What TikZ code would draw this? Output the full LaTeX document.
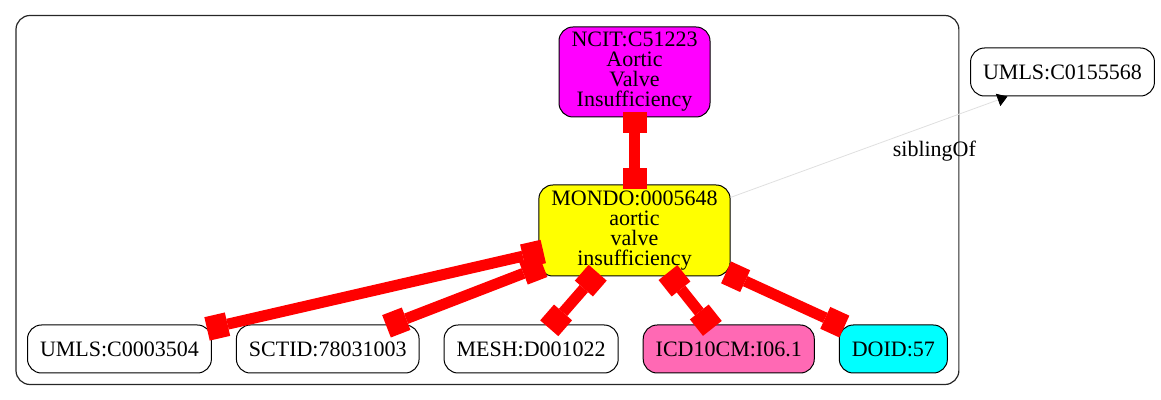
\documentclass[tikz,border=0pt]{standalone}
\usepackage{fontspec}
\setmainfont{Liberation Serif}
\usetikzlibrary{arrows.meta, positioning, fit, backgrounds}
\definecolor{nodemagenta}{RGB}{255,0,255}
\definecolor{nodeyellow}{RGB}{255,255,0}
\definecolor{nodepink}{RGB}{255,105,180}
\definecolor{nodecyan}{RGB}{0,255,255}

\begin{document}
\begin{tikzpicture}[
  x=0.5pt, y=-0.5pt,
  node distance = 12pt,
  term/.style    = {rectangle, rounded corners=7pt, draw=black, line width=0.5pt,
                    font=\fontsize{11}{10}\selectfont, align=center,
                    inner xsep=6.25pt, inner ysep=2pt, minimum height=24pt},
  cluster/.style = {rectangle, rounded corners=7pt, draw=black!85,
                    line width=0.6pt, inner sep=5.5pt},
  redge/.style   = {red, line width=5.5pt,
                    {Square[length=10.5pt, width=12pt, line width=0pt]}-{Square[length=10.5pt, width=12pt, line width=0pt]},
                    shorten <=-2.5pt, shorten >=-2.5pt},
  sib/.style     = {gray!25, line width=0.4pt,
                    -{Triangle[length=5pt, width=6.5pt, color=black]}},
  lbl/.style     = {font=\fontsize{11}{10}\selectfont, text=black},
]
  \useasboundingbox (0,0) rectangle (1161,400);

  \node[term, fill=nodemagenta, minimum width=75.5pt, minimum height=45pt]
    (ncit) at (634.5,72) {NCIT:C51223\\Aortic\\Valve\\Insufficiency};
  \node[term, fill=nodeyellow, minimum width=95.5pt, minimum height=45.5pt]
    (mondo) at (634.5,230.5) {MONDO:0005648\\aortic\\valve\\insufficiency};
  \node[term, anchor=west]          (umls)  at (27,349) {UMLS:C0003504};
  \node[term, right=of umls]        (sctid) {SCTID:78031003};
  \node[term, right=of sctid]       (mesh)  {MESH:D001022};
  \node[term, fill=nodepink, right=of mesh] (icd) {ICD10CM:I06.1};
  \node[term, fill=nodecyan, right=of icd]  (doid) {DOID:57};
  \node[term] (umlsb) at (1062.5,72) {UMLS:C0155568};

  \begin{scope}[on background layer]
    \node[cluster, fit=(ncit)(umls)(doid)] (grp) {};
  \end{scope}

  \draw[redge] (ncit)  -- (mondo);
  \draw[redge] (mondo) -- (umls);
  \draw[redge] (mondo) -- (sctid);
  \draw[redge] (mondo) -- (mesh);
  \draw[redge] (mondo) -- (icd);
  \draw[redge] (mondo) -- (doid);
  \draw[sib] (mondo.19) -- (umlsb.204)
    node[lbl, pos=0.736, yshift=-14pt] (siblbl) {siblingOf};
\end{tikzpicture}
\end{document}
